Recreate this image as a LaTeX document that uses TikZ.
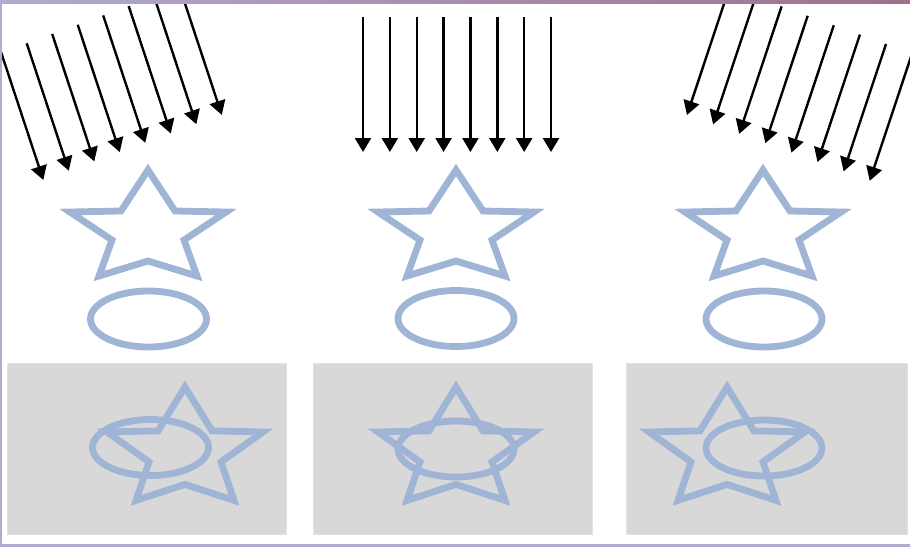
\documentclass[tikz,border=0pt]{standalone}
\usetikzlibrary{arrows.meta}
\definecolor{starblue}{RGB}{160,180,214}
\definecolor{panelgray}{RGB}{216,216,216}
\definecolor{paneledge}{RGB}{226,226,226}
\definecolor{framelav}{RGB}{178,170,210}
\definecolor{framemauve}{RGB}{160,112,138}
\tikzset{
  ray/.style={line width=2.4pt, -{Triangle[length=14pt,width=16pt]}},
  shapeline/.style={draw=starblue, line width=6.8pt, line join=miter},
  panel/.style={fill=panelgray, draw=paneledge, line width=0.8pt},
  lightstar/.pic={
    \draw[shapeline] (0,0) -- (27,41) -- (78,42) -- (36,70) -- (49,106)
      -- (0,91) -- (-49,106) -- (-36,70) -- (-78,42) -- (-27,41) -- cycle;
  }
}
\begin{document}
\begin{tikzpicture}[x=1pt,y=-1pt]
\useasboundingbox (0,0) rectangle (910,547);
\clip (0,0) rectangle (910,547);
\fill[white] (0,0) rectangle (910,547);

% bottom panels
\draw[panel] (7,363) rectangle (286,534);
\draw[panel] (313,363) rectangle (592,534);
\draw[panel] (626,363) rectangle (907,534);

% top row: star and ellipse
\pic (ts1) at (148,170) {lightstar};
\pic (ts2) at (456,170) {lightstar};
\pic (ts3) at (763,170) {lightstar};
\coordinate (te1) at (148.5,319);
\coordinate (te2) at (456,318.5);
\coordinate (te3) at (764,319);
\foreach \c in {te1,te2,te3}
  \draw[shapeline] (\c) ellipse [x radius=58, y radius=28];

% bottom row: overlapped projections
\pic[yscale=1.07] (bs1) at (185,387) {lightstar};
\pic[yscale=1.07] (bs2) at (456,387) {lightstar};
\pic[yscale=1.07] (bs3) at (727,387) {lightstar};
\coordinate (be1) at (150.5,447.5);
\coordinate (be2) at (456,449);
\coordinate (be3) at (764,448);
\foreach \c in {be1,be2,be3}
  \draw[shapeline] (\c) ellipse [x radius=58, y radius=28];

% left rays (oblique)
\foreach \i in {0,...,7} {
  \coordinate (ls\i) at ({1.2+25.5*\i},{52.6-9.3*\i});
  \coordinate (lt\i) at ({43.3+25.5*\i},{180-9.3*\i});
  \draw[ray] (ls\i) -- (lt\i);
}
% middle rays (vertical)
\foreach \i in {0,...,7} {
  \coordinate (ms\i) at ({363+26.86*\i},17);
  \coordinate (mt\i) at ({363+26.86*\i},152);
  \draw[ray] (ms\i) -- (mt\i);
}
% right rays (oblique)
\foreach \i in {0,...,7} {
  \coordinate (rs\i) at ({729.4+26.1*\i},{-12.4+9.4*\i});
  \coordinate (rt\i) at ({687+26.1*\i},{115+9.4*\i});
  \draw[ray] (rs\i) -- (rt\i);
}

% frame
\fill[framelav] (0,0) rectangle (2.2,547);
\fill[framelav] (0,544) rectangle (910,547);
\shade[left color=framelav, right color=framemauve] (0,0) rectangle (910,3.5);
\end{tikzpicture}
\end{document}
